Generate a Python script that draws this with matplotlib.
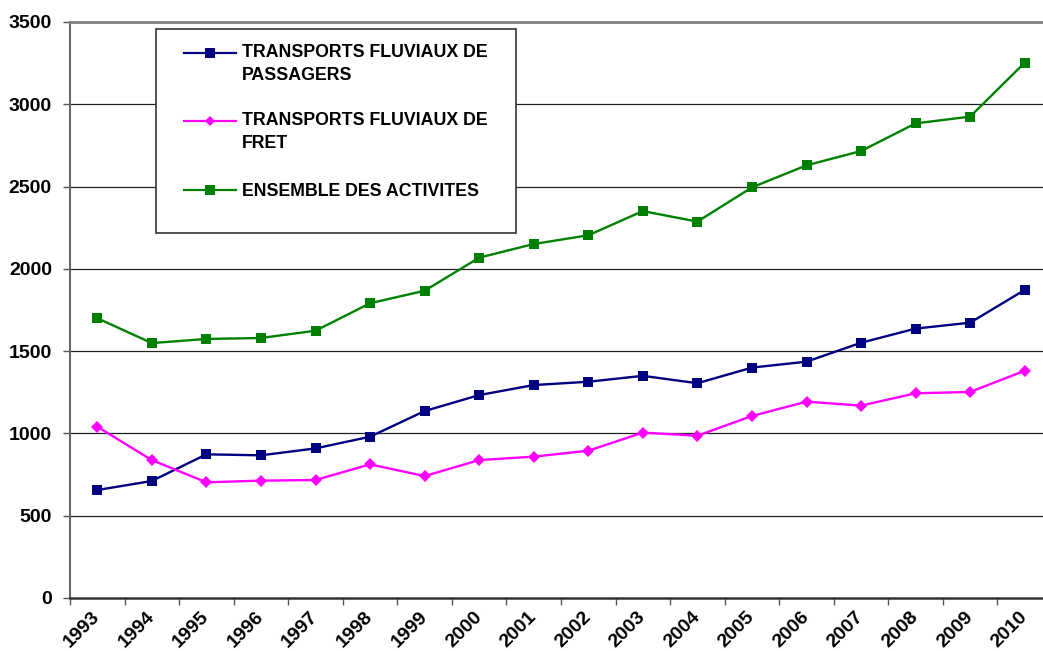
import matplotlib.pyplot as plt
from matplotlib.lines import Line2D
from matplotlib.patches import Rectangle

annees = [str(a) for a in range(1993, 2011)]
passagers = [656, 711, 873, 867, 909, 980, 1136, 1233, 1294, 1314, 1350, 1305, 1400, 1436, 1551, 1637, 1673, 1872]
fret = [1041, 838, 703, 713, 717, 812, 741, 838, 859, 895, 1005, 986, 1106, 1193, 1169, 1244, 1252, 1381]
ensemble = [1700, 1549, 1574, 1580, 1624, 1791, 1867, 2068, 2151, 2204, 2351, 2287, 2495, 2629, 2716, 2884, 2925, 3253]
labels = ['TRANSPORTS FLUVIAUX DE\nPASSAGERS', 'TRANSPORTS FLUVIAUX DE\nFRET', 'ENSEMBLE DES ACTIVITES']

plt.rcParams['font.family'] = ['Liberation Sans', 'DejaVu Sans']
plt.rcParams['font.weight'] = 'bold'

W, H = 1043, 651
fig = plt.figure(figsize=(W / 100, H / 100), dpi=100)
ax = fig.add_axes([70 / W, 1 - 598 / H, (1052 - 70) / W, (598 - 22) / H])

x = list(range(len(annees)))
series = [
    (passagers, '#000080', 's', 7.5),
    (fret, '#FF00FF', 'D', 6.5),
    (ensemble, '#008000', 's', 7.5),
]
for vals, col, mk, ms in series:
    ax.plot(x, vals, color=col, lw=1.7, marker=mk, markersize=ms, markeredgewidth=0)

ax.set_xlim(-0.5, len(annees) - 0.5)
ax.set_ylim(0, 3500)
ax.set_yticks(range(0, 3501, 500))
for y in range(500, 3500, 500):
    ax.axhline(y, color='#222222', lw=0.9, zorder=0)

# ticks at category boundaries, labels at category centres
ax.set_xticks([i - 0.5 for i in range(len(annees) + 1)])
ax.set_xticklabels([])
ax.set_xticks(x, minor=True)
ax.set_xticklabels(annees, minor=True, rotation=45, ha='right', va='center',
                   rotation_mode='anchor', fontsize=14, fontweight='bold')
ax.tick_params(axis='x', which='minor', length=0, pad=12)
ax.tick_params(axis='x', which='major', length=5, width=1, color='#555555', direction='out')
ax.tick_params(axis='y', length=5, width=1, color='#555555', pad=8, labelsize=14)
for t in ax.get_yticklabels():
    t.set_fontweight('bold')

ax.spines['top'].set_color('#808080')
ax.spines['top'].set_linewidth(2)
ax.spines['right'].set_visible(False)
ax.spines['left'].set_color('#666666')
ax.spines['left'].set_linewidth(1.5)
ax.spines['bottom'].set_color('#333333')
ax.spines['bottom'].set_linewidth(1.8)

# legend box
fig.patches.append(Rectangle((156 / W, 1 - 233 / H), 360 / W, 204 / H, transform=fig.transFigure,
                             facecolor='white', edgecolor='#333333', lw=1.2, zorder=5))
ys = [53, 121, 190]
for (vals, col, mk, ms), lab, yy in zip(series, labels, ys):
    fy = 1 - yy / H
    fig.add_artist(Line2D([184 / W, 236 / W], [fy, fy], color=col, lw=1.6, zorder=6))
    fig.add_artist(Line2D([210 / W], [fy], color=col, marker=mk, markersize=ms - 1,
                          markeredgewidth=0, zorder=6))
    # baseline of the last line
    base = yy + 6 + (lab.count('\n')) * 20.7
    fig.text(242 / W, 1 - base / H, lab, ha='left', va='baseline', fontsize=12.8,
             fontweight='bold', linespacing=1.42, zorder=7)

fig.savefig('out.png', dpi=100)
